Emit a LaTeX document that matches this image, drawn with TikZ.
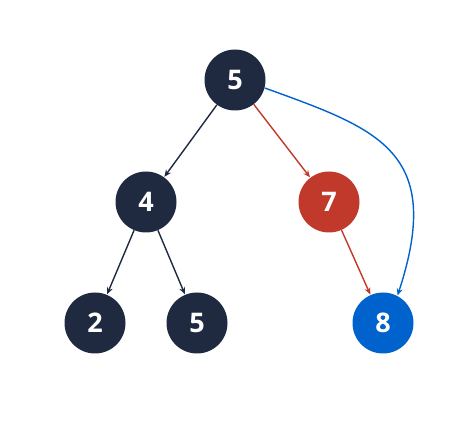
\documentclass[tikz,border=0pt]{standalone}
\usepackage{fontspec}
\setmainfont{Open Sans}
\usepackage{tikz}
\usetikzlibrary{arrows.meta}
\definecolor{navy}{HTML}{1F2A40}
\definecolor{hot}{HTML}{C0392B}
\definecolor{goal}{HTML}{0062CC}

\begin{document}
\begin{tikzpicture}[x=1pt,y=-1pt,
    every node/.style={circle,minimum size=61pt,inner sep=0pt,text=white,
      font=\fontsize{27}{27}\selectfont\bfseries},
    link/.style={-{Stealth[length=7pt,width=6pt]},line width=1.4pt,shorten >=0.5pt}]
    \useasboundingbox (0,0) rectangle (475,425);
    \node[fill=navy] (r) at (235,80) {5};
    \node[fill=navy] (l) at (146,202) {4};
    \node[fill=hot] (rr) at (329,202) {7};
    \node[fill=navy] (ll) at (95,323) {2};
    \node[fill=navy] (lr) at (197,323) {5};
    \node[fill=goal] (t) at (383,323) {8};
    \draw[link,navy] (r) -- (l);
    \draw[link,navy] (l) -- (ll);
    \draw[link,navy] (l) -- (lr);
    \draw[link,hot] (r) -- (rr);
    \draw[link,hot] (rr) -- (t);
    % shortcut straight to the target
    \draw[link,goal] (r.-15) .. controls (378,129) and (445,151) .. (t.62);
  \end{tikzpicture}
\end{document}
